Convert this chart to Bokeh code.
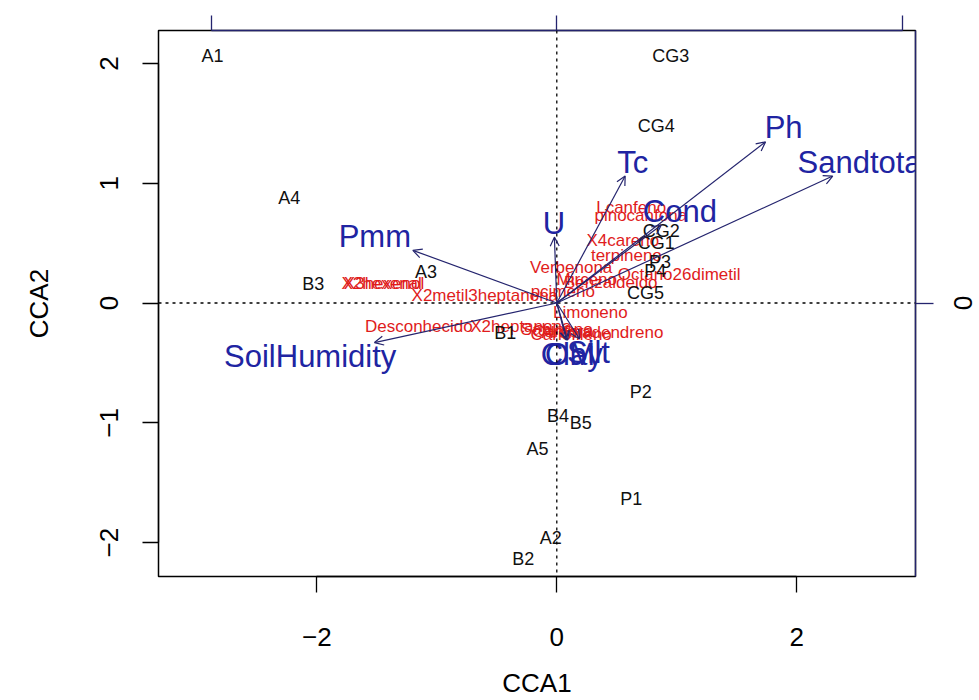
import numpy as np
from bokeh.plotting import figure
from bokeh.models import (ColumnDataSource, Range1d, LinearAxis, FixedTicker,
                          Span, Arrow, OpenHead)
from bokeh.core.properties import value
from bokeh.embed import file_html
from bokeh.resources import INLINE

# ---------------- data ----------------
site_names = ["A1", "A2", "A3", "A4", "A5",
              "B1", "B2", "B3", "B4", "B5",
              "CG1", "CG2", "CG3", "CG4", "CG5",
              "P1", "P2", "P3", "P4"]
site_x = [-2.87, -0.05, -1.09, -2.23, -0.16,
          -0.43, -0.28, -2.03, 0.01, 0.20,
          0.83, 0.87, 0.95, 0.83, 0.74,
          0.62, 0.70, 0.86, 0.82]
site_y = [2.06, -1.96, 0.26, 0.88, -1.22,
          -0.25, -2.14, 0.16, -0.94, -1.00,
          0.50, 0.60, 2.06, 1.48, 0.08,
          -1.64, -0.74, 0.34, 0.27]

species_names = ["Lcanfeno", "pinocanfona", "X4careno", "terpineno", "Verbenona",
                 "Octano26dimetil", "Benzaldeido", "Mirceno", "pcimeno",
                 "X2metil3heptanona", "X2hexenal", "X3hexenol", "Desconhecido",
                 "X2heptanona", "Limoneno", "Aromadendreno", "Canfora",
                 "Sabineno", "Cariofileno"]
species_x = [0.62, 0.70, 0.55, 0.58, 0.12,
             1.02, 0.45, 0.25, 0.05,
             -0.60, -1.46, -1.44, -1.15,
             -0.30, 0.28, 0.38, 0.05,
             0.00, 0.12]
species_y = [0.80, 0.73, 0.52, 0.40, 0.30,
             0.24, 0.17, 0.20, 0.10,
             0.06, 0.16, 0.16, -0.20,
             -0.20, -0.08, -0.25, -0.24,
             -0.22, -0.26]

env_names = ["Ph", "Sandtotal", "Tc", "U", "Cond", "Pmm",
             "SoilHumidity", "Clay", "OM", "Silt"]
env_x = [1.74, 2.30, 0.57, -0.02, 0.87, -1.20, -1.52, 0.09, 0.08, 0.19]
env_y = [1.345, 1.06, 1.06, 0.55, 0.65, 0.44, -0.33, -0.31, -0.31, -0.30]

arrow_mul = 2.88          # biplot arrow multiplier (secondary axes)
x_ticks = [-2, 0, 2]
y_ticks = [-2, -1, 0, 1, 2]
top_ticks = [-1, 0, 1]
right_ticks = [-1, 0, 1]
x_lim = (-3.32, 2.99)
y_lim = (-2.283, 2.275)

# ---------------- styling ----------------
FONT = "Liberation Sans"
SITE_COL = "#111111"
SPEC_COL = "#e01c1c"
ENV_COL = "#2024a2"
ARROW_COL = "#24246e"
ENV_SIZE = 31
SPEC_SIZE = 17
SITE_SIZE = 18
AXIS_SIZE = "26px"

# Helvetica advance widths (per 1000 em) for label-offset computation
_W = dict(zip("abcdefghijklmnopqrstuvwxyz",
              [556, 556, 500, 556, 556, 278, 556, 556, 222, 222, 500, 222, 833,
               556, 556, 556, 556, 333, 500, 278, 556, 500, 722, 500, 500, 500]))
_W.update(dict(zip("ABCDEFGHIJKLMNOPQRSTUVWXYZ",
                   [667, 667, 722, 722, 667, 611, 778, 722, 278, 500, 667, 556, 833,
                    722, 778, 667, 778, 722, 667, 611, 722, 667, 944, 667, 667, 611])))


def str_w(s, size):
    return sum(_W.get(c, 556) for c in s) / 1000.0 * size


# vegan::ordiArrowTextXY-like placement (pixel offsets from arrow tip)
def arrow_label_offsets(xs, ys, labels, size):
    xo, yo = [], []
    h = 0.6 * size
    for x, y, lab in zip(xs, ys, labels):
        w = str_w(lab, size)
        ox = np.sign(x) * (w / 2 + h / 4)
        oy = 0.75 * h * np.sign(y)
        b = y / x if x != 0 else np.inf
        move = oy / b if np.isfinite(b) and b != 0 else 0.0
        if np.isfinite(move) and abs(move) <= abs(ox):
            ox = move
        else:
            oy = b * ox
        xo.append(float(ox))
        yo.append(float(-oy))
    return xo, yo


env_xo, env_yo = arrow_label_offsets(env_x, env_y, env_names, ENV_SIZE)

site_src = ColumnDataSource(dict(x=site_x, y=site_y, t=site_names))
spec_src = ColumnDataSource(dict(x=species_x, y=species_y, t=species_names))
env_src = ColumnDataSource(dict(x0=[0.0] * len(env_x), y0=[0.0] * len(env_y),
                                x=env_x, y=env_y, t=env_names,
                                xo=env_xo, yo=env_yo))

p = figure(width=979, height=700,
           x_range=Range1d(*x_lim), y_range=Range1d(*y_lim),
           output_backend="svg", toolbar_location=None,
           min_border_left=158, min_border_right=64,
           min_border_top=30, min_border_bottom=123,
           x_axis_label="CCA1", y_axis_label="CCA2")
p.grid.visible = False
p.outline_line_color = "black"
p.outline_line_width = 1.5
p.background_fill_color = "white"
p.border_fill_color = "white"

p.extra_x_ranges = {"top": Range1d(x_lim[0] / arrow_mul, x_lim[1] / arrow_mul)}
p.extra_y_ranges = {"right": Range1d(y_lim[0] / arrow_mul, y_lim[1] / arrow_mul)}


def style_axis(ax, color, size=AXIS_SIZE):
    ax.axis_line_color = color
    ax.axis_line_width = 1.3
    ax.major_tick_line_color = color
    ax.major_tick_line_width = 1.3
    ax.major_tick_in = 0
    ax.major_tick_out = 16
    ax.minor_tick_line_color = None
    ax.major_label_text_font = FONT
    ax.major_label_text_font_size = size
    ax.major_label_text_color = "black"
    ax.axis_label_text_font = FONT
    ax.axis_label_text_font_size = AXIS_SIZE
    ax.axis_label_text_font_style = "normal"
    ax.axis_label_text_color = "black"


xa = p.xaxis[0]
style_axis(xa, "black")
xa.ticker = FixedTicker(ticks=x_ticks)
xa.bounds = (x_ticks[0], x_ticks[-1])
xa.major_label_standoff = 35
xa.axis_label_standoff = 19

ya = p.yaxis[0]
style_axis(ya, "black")
ya.ticker = FixedTicker(ticks=y_ticks)
ya.bounds = (y_ticks[0], y_ticks[-1])
ya.major_label_orientation = "vertical"
ya.major_label_standoff = 24
ya.axis_label_standoff = 44

top = LinearAxis(x_range_name="top", ticker=FixedTicker(ticks=top_ticks))
style_axis(top, ARROW_COL, size="1px")
top.bounds = (top_ticks[0], top_ticks[-1])
top.major_tick_out = 15
top.major_label_standoff = 0
top.major_label_overrides = {t: "" for t in top_ticks}
p.add_layout(top, "above")

right = LinearAxis(y_range_name="right", ticker=FixedTicker(ticks=right_ticks))
style_axis(right, ARROW_COL)
right.major_tick_out = 18
right.major_label_orientation = "vertical"
right.major_label_standoff = 20
p.add_layout(right, "right")

# dotted zero lines
p.add_layout(Span(location=0, dimension="width", line_color="black",
                  line_dash="3 4", line_width=1.3))
p.add_layout(Span(location=0, dimension="height", line_color="black",
                  line_dash="3 4", line_width=1.3))

# species (red) and sites (black)
p.text(x="x", y="y", text="t", source=spec_src, text_color=SPEC_COL,
       text_font=value(FONT), text_font_size=value(f"{SPEC_SIZE}px"),
       text_align="center", text_baseline="middle")
p.text(x="x", y="y", text="t", source=site_src, text_color=SITE_COL,
       text_font=value(FONT), text_font_size=value(f"{SITE_SIZE}px"),
       text_align="center", text_baseline="middle")

# biplot arrows
p.add_layout(Arrow(x_start="x0", y_start="y0", x_end="x", y_end="y", source=env_src,
                   line_color=ARROW_COL, line_width=1.2,
                   end=OpenHead(size=9, line_color=ARROW_COL, line_width=1.2)))
p.text(x="x", y="y", text="t", source=env_src, x_offset="xo", y_offset="yo",
       text_color=ENV_COL, text_font=value(FONT), text_font_size=value(f"{ENV_SIZE}px"),
       text_align="center", text_baseline="middle")

open("out.html", "w").write(file_html(p, INLINE))
